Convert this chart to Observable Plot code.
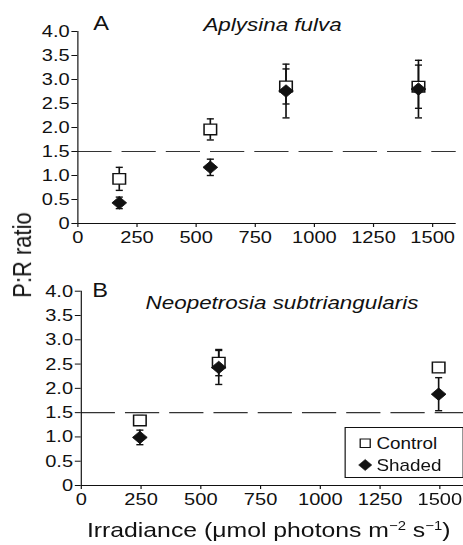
<!DOCTYPE html>
<html><head><meta charset="utf-8">
<script src="https://cdn.jsdelivr.net/npm/d3@7"></script>
<script src="https://cdn.jsdelivr.net/npm/@observablehq/plot@0.6"></script>
<style>
html,body{margin:0;padding:0;background:#fff;overflow:hidden;}
#wrap{position:relative;width:393px;height:545px;transform:scaleX(1.18);transform-origin:0 0;font-family:"Liberation Sans",Arial,sans-serif;color:#111;}
#panelA{position:absolute;left:0;top:0;}
#panelB{position:absolute;left:0;top:260px;}
#ylab{position:absolute;left:18.6px;top:255px;transform:translate(-50%,-50%) rotate(-90deg);font-size:22px;white-space:nowrap;line-height:1;}
#xlab{position:absolute;left:227.7px;top:519px;transform:translateX(-50%);font-size:21px;white-space:nowrap;line-height:1;}
#xlab sup{font-size:0.6em;vertical-align:0.55em;line-height:0;}
#legend{position:absolute;left:291.5px;top:427px;}
</style></head>
<body>
<div id="wrap">
  <div id="panelA"></div>
  <div id="panelB"></div>
  <div id="ylab">P:R ratio</div>
  <div id="xlab">Irradiance (μmol photons m<sup>−2</sup> s<sup>−1</sup>)</div>
  <div id="legend"></div>
</div>
<script>
// ---- data ----
const xTicks = [0, 250, 500, 750, 1000, 1250, 1500];
const yTicks = [0, 0.5, 1, 1.5, 2, 2.5, 3, 3.5, 4];
const threshold = 1.5;

// Panel A: Aplysina fulva
const irrA = [175, 560, 880, 1440];
const ctrlA = [0.93, 1.96, 2.855, 2.85];
const ctrlErrA = [0.24, 0.22, 0.365, 0.45];
const shadA = [0.43, 1.17, 2.76, 2.8];
const shadErrA = [0.12, 0.17, 0.56, 0.6];

// Panel B: Neopetrosia subtriangularis
const irrB = [245, 575, 1495];
const ctrlB = [1.34, 2.53, 2.43];
const ctrlErrB = [0.1, 0.27, 0.1];
const shadB = [0.99, 2.43, 1.88];
const shadErrB = [0.15, 0.35, 0.34];

const seriesNames = ["Control", "Shaded"];

function rows(xs, ys, es) {
  return xs.map((x, i) => ({x, y: ys[i], lo: ys[i] - es[i], hi: ys[i] + es[i]}));
}

const capSymbol = {
  draw(ctx, size) {
    const h = Math.sqrt(size / Math.PI);
    ctx.moveTo(-h, 0);
    ctx.lineTo(h, 0);
  }
};

const yFmt = d => d === 0 ? "0" : d.toFixed(1);

function panel(o) {
  const ctrl = rows(o.xs, o.ctrl, o.ctrlErr);
  const shad = rows(o.xs, o.shad, o.shadErr);
  const all = ctrl.concat(shad);
  return Plot.plot({
    width: o.width, height: o.height,
    marginLeft: o.ml, marginRight: o.mr, marginTop: o.mt, marginBottom: o.mb,
    x: {domain: [0, 1600]},
    y: {domain: [0, 4]},
    style: {fontFamily: "Liberation Sans, Arial, sans-serif", fontSize: "17px", color: "#111", background: "white", overflow: "visible"},
    marks: [
      Plot.ruleY([threshold], {stroke: "#333", strokeWidth: 1.2, strokeDasharray: "29,8.5"}),
      Plot.axisY({ticks: yTicks, tickFormat: yFmt, tickSize: 5, tickPadding: 2, label: null, fontSize: 17}),
      Plot.axisX({ticks: xTicks, tickFormat: d3.format("d"), tickSize: 4, tickPadding: 3, label: null, fontSize: 17}),
      Plot.ruleX([0], {stroke: "#111", strokeWidth: 1}),
      Plot.ruleY([0], {stroke: "#111", strokeWidth: 1}),
      Plot.ruleX(all, {x: "x", y1: "lo", y2: "hi", stroke: "#111", strokeWidth: 1.4}),
      Plot.dot(all, {x: "x", y: "hi", symbol: capSymbol, r: 3, fill: "none", stroke: "#111", strokeWidth: 1.4}),
      Plot.dot(all, {x: "x", y: "lo", symbol: capSymbol, r: 3, fill: "none", stroke: "#111", strokeWidth: 1.4}),
      Plot.dot(ctrl, {x: "x", y: "y", symbol: "square", r: 6, fill: "white", stroke: "#111", strokeWidth: 1.3}),
      Plot.dot(shad, {x: "x", y: "y", symbol: "diamond2", r: 5.6, fill: "#111", stroke: "#111", strokeWidth: 0.8}),
      Plot.text([o.letter], {text: d => d, frameAnchor: "top-left", textAnchor: "start", lineAnchor: "top", dx: o.letterDx, dy: o.letterDy, fontSize: 20, fill: "#111"}),
      Plot.text([o.species], {text: d => d, frameAnchor: "top", textAnchor: "middle", lineAnchor: "top", dx: o.spDx, dy: o.spDy, fontSize: 19, fontStyle: "italic", fill: "#111"})
    ]
  });
}

document.getElementById("panelA").append(panel({
  xs: irrA, ctrl: ctrlA, ctrlErr: ctrlErrA, shad: shadA, shadErr: shadErrA,
  width: 392, height: 250, ml: 65.5, mr: 5.8, mt: 31, mb: 27,
  letter: "A", letterDx: 13, letterDy: -16,
  species: "Aplysina fulva", spDx: 4.6, spDy: -14
}));

document.getElementById("panelB").append(panel({
  xs: irrB, ctrl: ctrlB, ctrlErr: ctrlErrB, shad: shadB, shadErr: shadErrB,
  width: 393, height: 285, ml: 68.4, mr: 0.5, mt: 30.7, mb: 60,
  letter: "B", letterDx: 9.3, letterDy: -8.7,
  species: "Neopetrosia subtriangularis", spDx: 8, spDy: 4.3
}));

// legend
const lg = d3.select("#legend").append("svg").attr("width", 101).attr("height", 51)
  .style("overflow", "visible").style("font-family", "Liberation Sans, Arial, sans-serif");
lg.append("rect").attr("x", 0.5).attr("y", 0.5).attr("width", 100).attr("height", 50)
  .attr("fill", "white").attr("stroke", "#111").attr("stroke-width", 1);
const legSym = [d3.symbolSquare, d3.symbolDiamond2];
seriesNames.forEach((name, i) => {
  const g = lg.append("g").attr("transform", `translate(17.5,${16.3 + i * 21.7})`);
  g.append("path").attr("d", d3.symbol(legSym[i], i === 0 ? 72 : 80)())
    .attr("fill", i === 0 ? "white" : "#111").attr("stroke", "#111").attr("stroke-width", i === 0 ? 1.1 : 0.5);
  lg.append("text").attr("x", 27).attr("y", 16.3 + i * 21.7).attr("dy", "0.36em")
    .attr("font-size", 16).attr("fill", "#111").text(name);
});
</script>
</body></html>
